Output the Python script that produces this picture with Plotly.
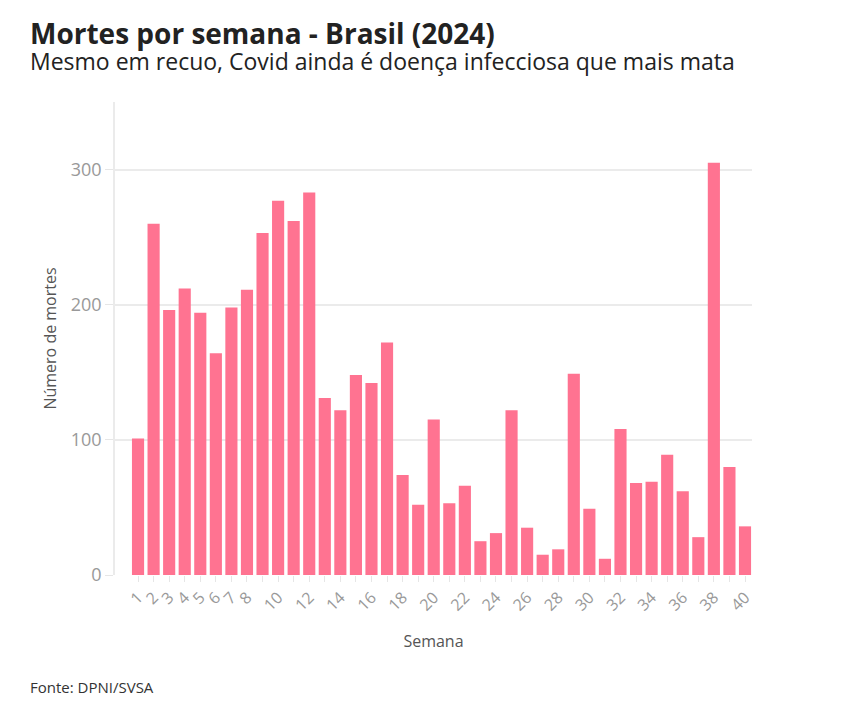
import plotly.graph_objects as go

# semanas epidemiológicas e óbitos
semanas = list(range(1, 41))
mortes = [101, 260, 196, 212, 194, 164, 198, 211, 253, 277,
          262, 283, 131, 122, 148, 142, 172, 74, 52, 115,
          53, 66, 25, 31, 122, 35, 15, 19, 149, 49,
          12, 108, 68, 69, 89, 62, 28, 305, 80, 36]

# rótulos do eixo x: 1..8 e depois só os pares
rotulos = [str(s) if (s <= 8 or s % 2 == 0) else "" for s in semanas]

FONT = "Open Sans"
BAR = "#FF7391"
GRID = "#EBEBEB"

fig = go.Figure(go.Bar(
    x=semanas, y=mortes,
    marker=dict(color=BAR, line=dict(width=0)),
    hovertemplate="Semana %{x}<br>%{y} mortes<extra></extra>",
))

fig.update_layout(
    width=826, height=690,
    margin=dict(l=107, r=82, t=94, b=123),
    paper_bgcolor="white", plot_bgcolor="white",
    font=dict(family=FONT, color="#444"),
    bargap=0.22,
    showlegend=False,
    xaxis=dict(
        range=[-0.48, 40.45],
        tickmode="array", tickvals=semanas, ticktext=rotulos,
        tickangle=-45, ticks="outside", ticklen=6, tickcolor="#E6E6E6",
        tickfont=dict(size=16, color="#999"),
        showgrid=False, zeroline=False,
        showline=False,
        title=dict(text="Semana", font=dict(size=16, color="#555"), standoff=21),
    ),
    yaxis=dict(
        range=[0, 350],
        tickvals=[0, 100, 200, 300],
        ticks="outside", ticklen=8, tickcolor="#E6E6E6",
        tickfont=dict(size=18, color="#999"),
        showgrid=True, gridcolor=GRID, gridwidth=1.5,
        zeroline=False,
        showline=True, linecolor="#EBEBEB", linewidth=1.5,
        title=dict(text="Número de mortes", font=dict(size=16, color="#555"),
                   standoff=10),
    ),
    annotations=[
        dict(text="<b>Mortes por semana - Brasil (2024)</b>",
             xref="paper", yref="paper", x=-0.1366, y=1.146,
             xanchor="left", yanchor="middle", showarrow=False,
             font=dict(family=FONT, size=28, color="#222")),
        dict(text="Mesmo em recuo, Covid ainda é doença infecciosa que mais mata",
             xref="paper", yref="paper", x=-0.1366, y=1.0877,
             xanchor="left", yanchor="middle", showarrow=False,
             font=dict(family=FONT, size=23, color="#222")),
        dict(text="Fonte: DPNI/SVSA", xref="paper", yref="paper",
             x=-0.1366, y=-0.2368, xanchor="left", yanchor="middle",
             showarrow=False, font=dict(family=FONT, size=15, color="#333")),
    ],
)

fig.write_html("out.html")
